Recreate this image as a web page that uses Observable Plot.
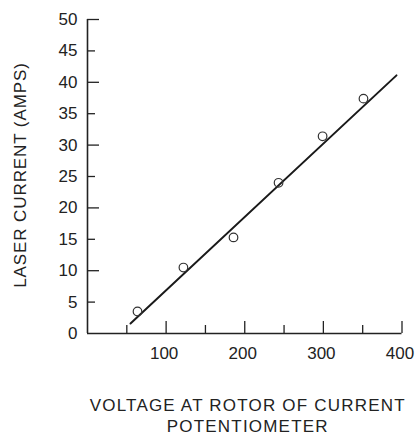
<!DOCTYPE html>
<html><head><meta charset="utf-8">
<script src="https://cdn.jsdelivr.net/npm/d3@7"></script>
<script src="https://cdn.jsdelivr.net/npm/@observablehq/plot@0.6"></script>
<style>
body{margin:0;background:#fff;}
</style></head><body><div id="chart"></div>
<script>
// measured points (voltage, laser current)
const voltage = [63.6, 122, 185.7, 243, 299, 351];
const current = [3.5, 10.5, 15.3, 24.0, 31.4, 37.4];
// drawn straight line end points
const lineVoltage = [54.7, 393];
const lineCurrent = [1.6, 41.1];
// ticks
const xLabelTicks = [100, 200, 300, 400];
const xMajorTicks = [100, 200, 300, 400];
const xMinorTicks = [50, 150, 250, 350];
const yLabelTicks = [0, 5, 10, 15, 20, 25, 30, 35, 40, 45, 50];
const yMajorTicks = [10, 20, 30, 40, 50];
const yMinorTicks = [5, 15, 25, 35, 45];
const yTitle = "LASER CURRENT (AMPS)";
const xTitle = "VOLTAGE AT ROTOR OF CURRENT\nPOTENTIOMETER";

const points = voltage.map((v, i) => ({v, c: current[i]}));
const fit = lineVoltage.map((v, i) => ({v, c: lineCurrent[i]}));
const ink = "#222";
const blank = () => "";

const chart = Plot.plot({
  width: 418,
  height: 436,
  marginTop: 19,
  marginBottom: 103,
  marginLeft: 87,
  marginRight: 16.5,
  style: {fontFamily: "'Liberation Sans', Arial, sans-serif", fontSize: "17px", color: ink, background: "#fff"},
  x: {domain: [0, 400]},
  y: {domain: [0, 50]},
  marks: [
    Plot.ruleX([0], {stroke: ink, strokeWidth: 1.6}),
    Plot.ruleY([0], {stroke: ink, strokeWidth: 1.6}),
    // inward ticks
    Plot.axisY({ticks: yMajorTicks, tickSize: 12, dx: 12, tickFormat: blank, label: null, stroke: ink, strokeWidth: 1.3}),
    Plot.axisY({ticks: yMinorTicks, tickSize: 8, dx: 8, tickFormat: blank, label: null, stroke: ink, strokeWidth: 1.3}),
    Plot.axisX({ticks: xMajorTicks, tickSize: 12, dy: -12, tickFormat: blank, label: null, stroke: ink, strokeWidth: 1.3}),
    Plot.axisX({ticks: xMinorTicks, tickSize: 8, dy: -8, tickFormat: blank, label: null, stroke: ink, strokeWidth: 1.3}),
    // tick labels
    Plot.axisY({ticks: yLabelTicks, tickSize: 0, tickPadding: 10, label: null, fontSize: 17, fill: ink}),
    Plot.axisX({ticks: xLabelTicks, tickSize: 0, tickPadding: 13, dx: -2, label: null, fontSize: 17, fill: ink}),
    // data
    Plot.line(fit, {x: "v", y: "c", stroke: "#1a1a1a", strokeWidth: 2}),
    Plot.dot(points, {x: "v", y: "c", r: 4.3, stroke: "#333", strokeWidth: 1.2, fill: "none"}),
    // titles
    Plot.text([yTitle], {text: d => d, frameAnchor: "left", textAnchor: "middle", rotate: -90, lineAnchor: "top", dx: -74, dy: -1.5, fontSize: 17, fill: ink}),
    Plot.text([xTitle], {text: d => d, frameAnchor: "bottom", textAnchor: "middle", lineAnchor: "bottom", dy: 98, dx: 3, lineHeight: 1.19, fontSize: 17, fill: ink})
  ]
});
d3.select(chart).selectAll("text").each(function () {
  const t = this.textContent;
  if (t === yTitle) this.setAttribute("letter-spacing", "0.9");
  else if (t.startsWith("VOLTAGE")) this.setAttribute("letter-spacing", "1.2");
});
document.getElementById("chart").append(chart);
</script>
</body></html>
